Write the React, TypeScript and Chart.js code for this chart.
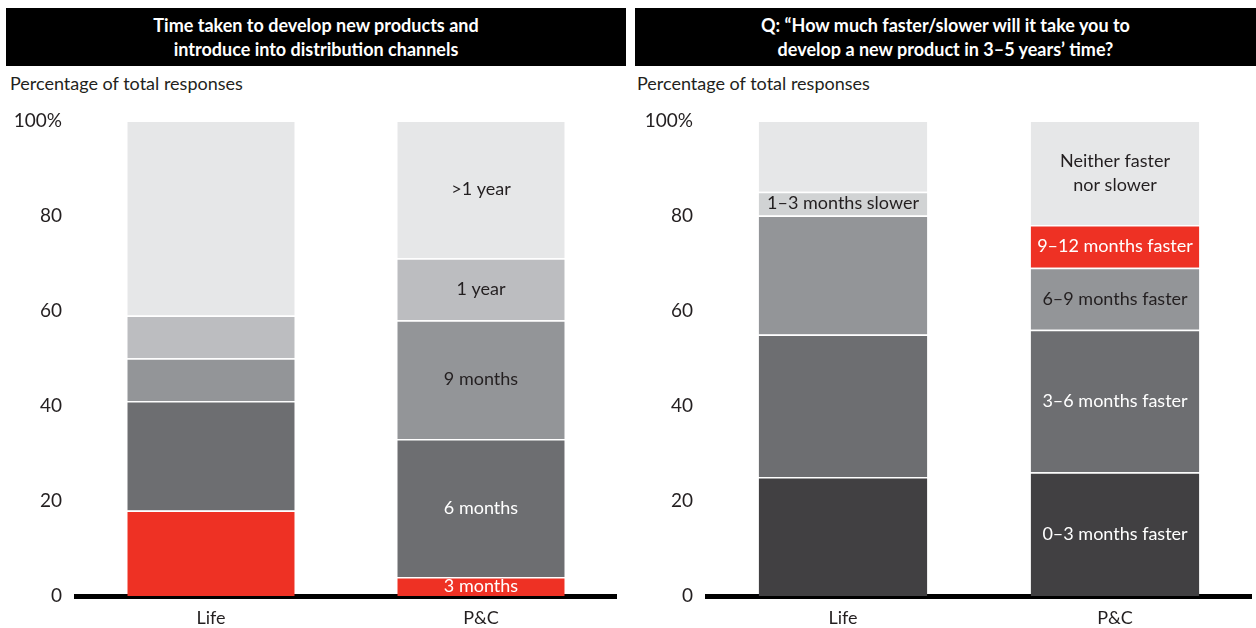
import React, { useEffect, useRef } from "react";
import { Chart, registerables } from "chart.js";

Chart.register(...registerables);

const categories = ["Life", "P&C"];
const yTicks = [0, 20, 40, 60, 80, 100];

// Left chart: time taken to develop new products
const leftSeries = ["3 months", "6 months", "9 months", "1 year", ">1 year"];
const leftValues = [
  [18, 4],
  [23, 29],
  [9, 25],
  [9, 13],
  [41, 29],
];
const leftColors = ["#ee3124", "#6d6e71", "#939598", "#bcbdc0", "#e6e7e8"];
const leftTextColors = ["#ffffff", "#ffffff", "#231f20", "#231f20", "#231f20"];
const leftLabels = [
  ["", "3 months"],
  ["", "6 months"],
  ["", "9 months"],
  ["", "1 year"],
  ["", ">1 year"],
];

// Right chart: how much faster/slower in 3–5 years
const rightSeries = [
  "0–3 months faster",
  "3–6 months faster",
  "6–9 months faster",
  "9–12 months faster",
  "1–3 months slower",
  "Neither faster nor slower",
];
const rightValues = [
  [25, 26],
  [30, 30],
  [25, 13],
  [0, 9],
  [5, 0],
  [15, 22],
];
const rightColors = ["#414042", "#6d6e71", "#939598", "#ee3124", "#d1d3d4", "#e6e7e8"];
const rightTextColors = ["#ffffff", "#ffffff", "#231f20", "#ffffff", "#231f20", "#231f20"];
const rightLabels = [
  ["", "0–3 months faster"],
  ["", "3–6 months faster"],
  ["", "6–9 months faster"],
  ["", "9–12 months faster"],
  ["1–3 months slower", ""],
  ["", "Neither faster\nnor slower"],
];

const FONT = "Lato, 'Noto Sans', sans-serif";

function makeChart(
  canvas: HTMLCanvasElement,
  series: string[],
  values: number[][],
  colors: string[],
  textColors: string[],
  labels: string[][],
  yAxisWidth: number,
  padRight: number
) {
  const labelPlugin = {
    id: "segLabels",
    afterDatasetsDraw(chart: any) {
      const ctx = chart.ctx;
      ctx.save();
      ctx.font = `18px ${FONT}`;
      ctx.textAlign = "center";
      ctx.textBaseline = "middle";
      chart.data.datasets.forEach((ds: any, di: number) => {
        const meta = chart.getDatasetMeta(di);
        meta.data.forEach((bar: any, i: number) => {
          const txt = labels[di][i];
          if (!txt) return;
          const p = bar.getProps(["x", "y", "base"], true);
          const cy = (p.y + p.base) / 2;
          const lines = txt.split("\n");
          ctx.fillStyle = textColors[di];
          lines.forEach((ln: string, li: number) => {
            ctx.fillText(ln, p.x, cy + (li - (lines.length - 1) / 2) * 24);
          });
        });
      });
      ctx.restore();
    },
  };

  return new Chart(canvas, {
    type: "bar",
    data: {
      labels: categories,
      datasets: series.map((s, i) => ({
        label: s,
        data: values[i],
        backgroundColor: colors[i],
        borderColor: "#ffffff",
        borderWidth: { top: 1.5, bottom: 0, left: 0, right: 0 },
        borderSkipped: false,
        barPercentage: 0.62,
        categoryPercentage: 1,
      })),
    },
    options: {
      animation: false,
      responsive: false,
      maintainAspectRatio: false,
      layout: { padding: { top: 15, right: padRight, left: 0, bottom: 0 } },
      plugins: {
        legend: { display: false },
        tooltip: { enabled: false },
        title: { display: false },
      },
      scales: {
        x: {
          stacked: true,
          grid: { display: false, drawTicks: false },
          border: { display: true, color: "#000000", width: 5 },
          ticks: {
            color: "#231f20",
            font: { family: FONT, size: 18 },
            padding: 11,
          },
          afterFit(scale: any) {
            scale.height = 32;
          },
        },
        y: {
          stacked: true,
          min: 0,
          max: 100,
          grid: { display: false, drawTicks: false },
          border: { display: false },
          afterBuildTicks(scale: any) {
            scale.ticks = yTicks.map((v) => ({ value: v }));
          },
          ticks: {
            color: "#231f20",
            font: { family: FONT, size: 19 },
            padding: 14,
            callback: (v: any) => (v === 100 ? "100%" : String(v)),
          },
          afterFit(scale: any) {
            scale.width = yAxisWidth;
          },
        },
      },
    },
    plugins: [labelPlugin],
  } as any);
}

function Panel(props: {
  left: number;
  width: number;
  title: string[];
  series: string[];
  values: number[][];
  colors: string[];
  textColors: string[];
  labels: string[][];
  yAxisWidth: number;
  padRight: number;
  boxLeft: number;
  subLeft: number;
}) {
  const ref = useRef<HTMLCanvasElement>(null);
  useEffect(() => {
    if (!ref.current) return;
    const c = makeChart(
      ref.current,
      props.series,
      props.values,
      props.colors,
      props.textColors,
      props.labels,
      props.yAxisWidth,
      props.padRight
    );
    return () => c.destroy();
  }, []);
  return (
    <>
      <div
        style={{
          position: "absolute",
          left: props.boxLeft,
          top: 8,
          width: props.left + props.width - props.boxLeft,
          height: 58,
          background: "#000",
          color: "#fff",
          fontFamily: FONT,
          fontWeight: 700,
          fontSize: 18,
          lineHeight: "24px",
          textAlign: "center",
          display: "flex",
          flexDirection: "column",
          justifyContent: "center",
        }}
      >
        {props.title.map((t, i) => (
          <div key={i}>{t}</div>
        ))}
      </div>
      <div
        style={{
          position: "absolute",
          left: props.subLeft,
          top: 72,
          fontFamily: FONT,
          fontSize: 18,
          lineHeight: "22px",
          color: "#231f20",
        }}
      >
        Percentage of total responses
      </div>
      <canvas
        ref={ref}
        width={props.width}
        height={533}
        style={{ position: "absolute", left: props.left, top: 95, width: props.width, height: 533 }}
      />
    </>
  );
}

export default function App() {
  return (
    <div style={{ position: "absolute", left: 0, top: 0, width: 1256, height: 628, background: "#fff", overflow: "hidden" }}>
      <Panel
        left={0}
        width={626}
        boxLeft={6}
        subLeft={10}
        title={["Time taken to develop new products and", "introduce into distribution channels"]}
        series={leftSeries}
        values={leftValues}
        colors={leftColors}
        textColors={leftTextColors}
        labels={leftLabels}
        yAxisWidth={76}
        padRight={10}
      />
      <Panel
        left={628}
        width={628}
        boxLeft={635}
        subLeft={637}
        title={["Q: “How much faster/slower will it take you to", "develop a new product in 3–5 years’ time?"]}
        series={rightSeries}
        values={rightValues}
        colors={rightColors}
        textColors={rightTextColors}
        labels={rightLabels}
        yAxisWidth={79}
        padRight={5}
      />
    </div>
  );
}
